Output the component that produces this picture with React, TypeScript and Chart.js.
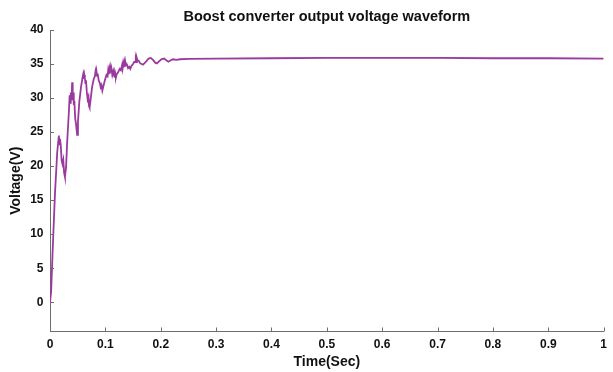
import { useEffect, useRef } from "react";
import { Chart, registerables } from "chart.js";

Chart.register(...registerables);

// Time axis (s) and output voltage (V)
const timeSec = [
  0, 0.002, 0.005, 0.009, 0.013, 0.016, 0.017, 0.018, 0.0195,
  0.021, 0.0225, 0.024, 0.0255, 0.027, 0.029,
  0.031, 0.034, 0.0355, 0.0365, 0.0375, 0.0385, 0.0395, 0.04, 0.041,
  0.042, 0.043, 0.044, 0.0455, 0.047, 0.048, 0.049, 0.0505,
  0.053, 0.056, 0.0585, 0.06, 0.061, 0.062, 0.063, 0.064, 0.065,
  0.0665, 0.068, 0.0695, 0.0705, 0.0715, 0.073,
  0.076, 0.079, 0.081, 0.082, 0.083, 0.084, 0.085, 0.086,
  0.088, 0.09, 0.0915, 0.093, 0.0945, 0.096,
  0.099, 0.102, 0.104, 0.105, 0.106, 0.107, 0.108, 0.109, 0.11, 0.111,
  0.1125, 0.114, 0.115, 0.116, 0.117, 0.118, 0.119, 0.1205,
  0.123, 0.126, 0.128, 0.13, 0.131, 0.132, 0.133, 0.134, 0.135, 0.136, 0.137,
  0.139, 0.141, 0.143, 0.145, 0.147,
  0.15, 0.152, 0.154, 0.155, 0.156, 0.157, 0.158, 0.16,
  0.163, 0.168, 0.173, 0.178, 0.182, 0.186, 0.19, 0.193, 0.197, 0.201, 0.206, 0.21, 0.214, 0.218, 0.222, 0.228,
  0.235, 0.25, 0.3, 0.4, 0.5, 0.6, 0.7, 0.8, 0.9, 1.0,
];

const voltageV = [
  0, 1.5, 8, 16, 22, 24.5, 23.2, 24.0, 23.0,
  20.8, 20.3, 20.9, 19.0, 18.4, 19.8,
  23.5, 27.8, 30.4, 29.3, 30.8, 29.8, 31.2, 32.3, 30.2,
  30.8, 29.0, 29.6, 27.0, 26.2, 25.4, 24.6, 26.5,
  29.5, 31.6, 32.9, 33.5, 32.8, 33.4, 32.9, 32.2, 32.6,
  30.9, 29.8, 30.2, 28.8, 28.6, 29.5,
  31.6, 32.8, 33.2, 33.8, 33.2, 33.9, 33.3, 33.6,
  32.6, 32.2, 31.6, 31.9, 31.1, 31.6,
  32.6, 33.4, 33.2, 34.0, 33.5, 34.2, 33.6, 34.4, 33.8, 34.3,
  33.4, 33.9, 33.2, 33.7, 33.0, 33.5, 33.0, 33.5,
  33.8, 34.3, 34.1, 34.8, 34.3, 35.0, 34.5, 35.2, 34.6, 35.3, 34.8,
  34.9, 34.4, 34.6, 34.3, 34.7,
  35.0, 35.3, 35.3, 35.7, 35.3, 35.8, 35.5, 35.5,
  35.1, 34.9, 35.3, 35.8, 35.9, 35.6, 35.2, 35.1, 35.4, 35.7, 35.8, 35.55, 35.35, 35.55, 35.7, 35.6,
  35.7, 35.75, 35.8, 35.85, 35.9, 35.9, 35.9, 35.85, 35.85, 35.8,
];

const xTickValues = [0, 0.1, 0.2, 0.3, 0.4, 0.5, 0.6, 0.7, 0.8, 0.9, 1];
const yTickValues = [0, 5, 10, 15, 20, 25, 30, 35, 40];
const X_MIN = 0;
const X_MAX = 1;
const Y_MIN = -4.3;
const Y_MAX = 40;

const titleText = "Boost converter output voltage waveform";
const xTitle = "Time(Sec)";
const yTitle = "Voltage(V)";

const FONT = "'Liberation Sans', Arial, Helvetica, sans-serif";
const AXIS_COLOR = "#6e6e6e";
const TEXT_COLOR = "#111111";
const LINE_COLOR = "#9a3a9f";

const inwardTicks = {
  id: "inwardTicks",
  afterDraw(chart: any) {
    const { ctx, chartArea, scales } = chart;
    const x = scales.x;
    const y = scales.y;
    ctx.save();
    ctx.strokeStyle = AXIS_COLOR;
    ctx.lineWidth = 1;
    ctx.beginPath();
    for (const v of xTickValues) {
      const px = Math.round(x.getPixelForValue(v)) + 0.5;
      ctx.moveTo(px, chartArea.bottom);
      ctx.lineTo(px, chartArea.bottom - 4);
    }
    for (const v of yTickValues) {
      const py = Math.round(y.getPixelForValue(v)) + 0.5;
      ctx.moveTo(chartArea.left, py);
      ctx.lineTo(chartArea.left + 4, py);
    }
    ctx.stroke();
    ctx.restore();
  },
};

export default function App() {
  const canvasRef = useRef<HTMLCanvasElement | null>(null);

  useEffect(() => {
    document.body.style.margin = "0";
    const canvas = canvasRef.current;
    if (!canvas) return;
    const points = timeSec.map((t, i) => ({ x: t, y: voltageV[i] }));

    const chart = new Chart(canvas, {
      type: "line",
      data: {
        datasets: [
          {
            data: points,
            borderColor: LINE_COLOR,
            borderWidth: 1.8,
            pointRadius: 0,
            tension: 0,
            fill: false,
          },
        ],
      },
      options: {
        responsive: false,
        animation: false,
        devicePixelRatio: 1,
        layout: { padding: { left: 0, right: 3, top: 0, bottom: 0 } },
        plugins: {
          legend: { display: false },
          tooltip: { enabled: false },
          title: {
            display: true,
            fullSize: false,
            text: titleText,
            color: TEXT_COLOR,
            font: { family: FONT, size: 14.5, weight: "bold" },
            padding: { top: 8, bottom: 4.6 },
          },
        },
        scales: {
          x: {
            type: "linear",
            min: X_MIN,
            max: X_MAX,
            afterBuildTicks: (s: any) => {
              s.ticks = xTickValues.map((v) => ({ value: v }));
            },
            afterFit: (s: any) => {
              s.height = 40.5;
            },
            ticks: {
              color: TEXT_COLOR,
              font: { family: FONT, size: 12, weight: "bold" },
              padding: 6,
              maxRotation: 0,
              autoSkip: false,
              callback: (v: any) => String(v),
            },
            grid: { display: true, drawOnChartArea: false, drawTicks: false },
            border: { display: true, color: AXIS_COLOR, width: 1 },
            title: {
              display: true,
              text: xTitle,
              color: TEXT_COLOR,
              font: { family: FONT, size: 14, weight: "bold" },
              padding: { top: 0, bottom: 1.6 },
            },
          },
          y: {
            type: "linear",
            min: Y_MIN,
            max: Y_MAX,
            afterBuildTicks: (s: any) => {
              s.ticks = yTickValues.map((v) => ({ value: v }));
            },
            afterFit: (s: any) => {
              s.width = 50;
            },
            ticks: {
              color: TEXT_COLOR,
              font: { family: FONT, size: 12, weight: "bold" },
              padding: 6.5,
              autoSkip: false,
              callback: (v: any) => String(v),
            },
            grid: { display: true, drawOnChartArea: false, drawTicks: false },
            border: { display: true, color: AXIS_COLOR, width: 1 },
            title: {
              display: true,
              text: yTitle,
              color: TEXT_COLOR,
              font: { family: FONT, size: 14, weight: "bold" },
              padding: { top: 7.6, bottom: 0 },
            },
          },
        },
      },
      plugins: [inwardTicks],
    });

    return () => chart.destroy();
  }, []);

  return (
    <div style={{ position: "fixed", left: 0, top: 0, width: 613, height: 372, background: "#fff" }}>
      <canvas ref={canvasRef} width={613} height={372} style={{ display: "block" }} />
    </div>
  );
}
